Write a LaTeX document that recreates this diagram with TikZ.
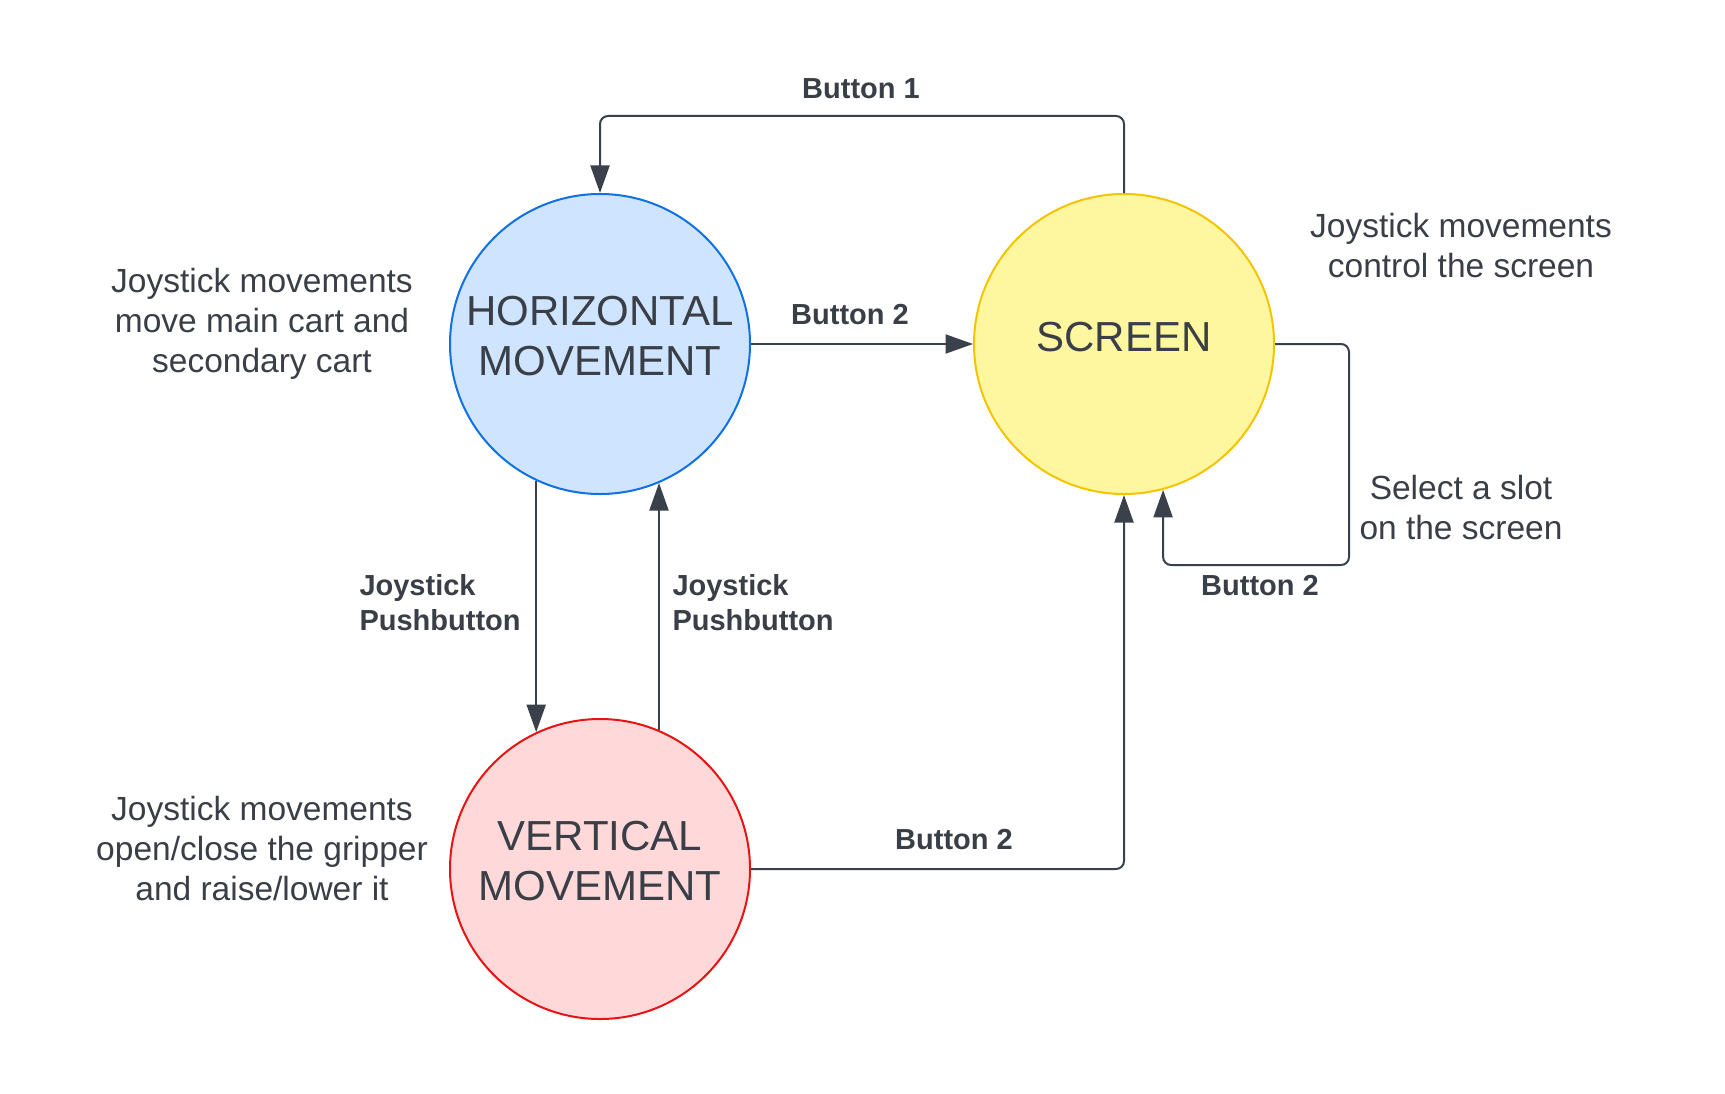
\documentclass[tikz,border=0pt]{standalone}
\usepackage{fontspec}
\setmainfont{Liberation Sans}
\usetikzlibrary{arrows.meta}
\definecolor{txt}{HTML}{3A3F47}
\definecolor{ln}{HTML}{3A414A}
\definecolor{hfill}{HTML}{CFE4FF}
\definecolor{hdraw}{HTML}{1071E5}
\definecolor{sfill}{HTML}{FFF6A0}
\definecolor{sdraw}{HTML}{F5C400}
\definecolor{vfill}{HTML}{FFD9D9}
\definecolor{vdraw}{HTML}{E81313}
\tikzset{
  state/.style={circle, minimum size=120pt, inner sep=0pt, line width=0.8pt},
  stxt/.style={text=txt, align=center, inner sep=0pt, font=\fontsize{16.8pt}{20pt}\selectfont},
  conn/.style={draw=ln, line width=0.8pt, rounded corners=3.2pt,
    -{Triangle[length=11pt,width=7.6pt]}, color=ln},
  lbl/.style={text=txt, font=\bfseries\fontsize{11.6pt}{14pt}\selectfont, inner sep=0pt},
  note/.style={text=txt, font=\fontsize{13.4pt}{16pt}\selectfont, align=center, inner sep=0pt}
}
\begin{document}
\begin{tikzpicture}[x=0.4pt,y=-0.4pt]
\useasboundingbox[fill=white] (0,0) rectangle (1725,1093);
\node[state, fill=hfill, draw=hdraw] (h) at (600,344) {};
\node[state, fill=sfill, draw=sdraw] (s) at (1124,344) {};
\node[state, fill=vfill, draw=vdraw] (v) at (600,869) {};
\node[stxt] (ht) at (600,336) {HORIZONTAL\\MOVEMENT};
\node[stxt] (st) at (1124,337) {SCREEN};
\node[stxt] (vt) at (600,861) {VERTICAL\\MOVEMENT};

\draw[conn] (s.north) -- ++(0,-77) -| (h.north);
\draw[conn] (h.east) -- (s.west);
\draw[conn] (h.-115.7) -- (v.115.7);
\draw[conn] (v.67.7) -- (h.-67.7);
\draw[conn] (v.east) -| (s.south);
\draw[conn] (s.east) -- ++(74,0) -- ++(0,221) -| (s.-75.3);

\node[lbl] (b1) at (861,89) {Button 1};
\node[lbl] (b2a) at (850,315) {Button 2};
\node[lbl] (b2b) at (954,840) {Button 2};
\node[lbl] (b2c) at (1260,586) {Button 2};
\node[lbl, align=left, anchor=west] (jp1) at (359,603) {Joystick\\Pushbutton};
\node[lbl, align=left, anchor=west] (jp2) at (672,603) {Joystick\\Pushbutton};

\node[note] (n1) at (262,324) {Joystick movements\\move main cart and\\secondary cart};
\node[note] (n2) at (1461,246) {Joystick movements\\control the screen};
\node[note] (n3) at (1461,508) {Select a slot\\on the screen};
\node[note] (n4) at (262,849) {Joystick movements\\open/close the gripper\\and raise/lower it};
\end{tikzpicture}
\end{document}
